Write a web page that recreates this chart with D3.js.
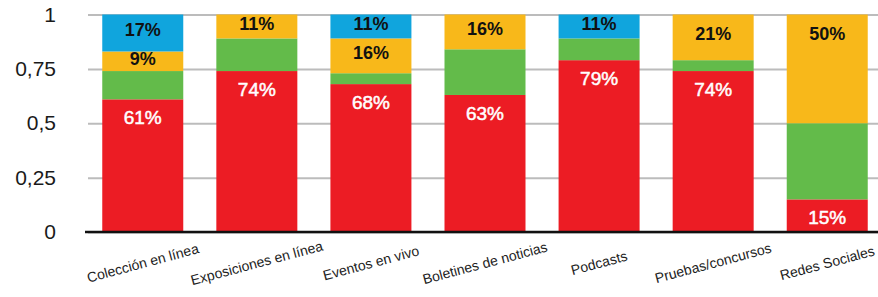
<!doctype html>
<html lang='es'>
<head>
<meta charset='UTF-8'>
<title>Stacked Bar Chart</title>
<style>
  body { margin: 0; background: #fff; }
  svg { display: block; font-family: 'Liberation Sans', Arial, Helvetica, sans-serif; }
  .grid line { stroke: #bcbcbc; stroke-width: 2px; }
  .grid text { font-size: 21px; fill: #1a1a1a; }
  .x text { font-size: 14px; fill: #222; }
  .lbl { font-size: 18px; font-weight: bold; }
</style>
</head>
<body>
<script src='https://cdn.jsdelivr.net/npm/d3@7'></script>
<script>
  const categories = ['Colección en línea', 'Exposiciones en línea', 'Eventos en vivo',
    'Boletines de noticias', 'Podcasts', 'Pruebas/concursos', 'Redes Sociales']
  // porcentajes por segmento, de abajo hacia arriba
  const red    = [61, 74, 68, 63, 79, 74, 15]
  const green  = [13, 15,  5, 21, 10,  5, 35]
  const yellow = [ 9, 11, 16, 16,  0, 21, 50]
  const blue   = [17,  0, 11,  0, 11,  0,  0]
  const yTicks = [0, 0.25, 0.5, 0.75, 1]

  const keys = ['red', 'green', 'yellow', 'blue']
  const colors = {red: '#ec1c24', green: '#63bb4a', yellow: '#f8b81a', blue: '#10a5dd'}
  const labelled = ['red', 'yellow', 'blue']

  const rows = categories.map((c, i) => ({
    cat: c, red: red[i] / 100, green: green[i] / 100, yellow: yellow[i] / 100, blue: blue[i] / 100
  }))

  const W = 878, H = 297
  const m = {left: 88, right: 882, top: 14.5, bottom: 232}

  const x = d3.scaleBand()
    .domain(categories)
    .range([m.left, m.right])
    .paddingInner(0.29)
    .paddingOuter(0.125)

  const y = d3.scaleLinear()
    .domain([0, 1])
    .range([m.bottom, m.top])

  const svg = d3.select('body').append('svg')
    .attr('width', W)
    .attr('height', H)

  // gridlines + etiquetas del eje y
  const grid = svg.append('g')
    .attr('class', 'grid')
    .attr('transform', `translate(${m.left},0)`)
    .call(d3.axisLeft(y)
      .tickValues(yTicks)
      .tickSize(-(W - m.left))
      .tickPadding(32)
      .tickFormat(d => String(d).replace('.', ',')))
  grid.select('.domain').remove()

  const series = d3.stack().keys(keys)(rows)

  svg.append('g')
    .selectAll('g')
    .data(series)
    .join('g')
    .attr('fill', s => colors[s.key])
    .selectAll('rect')
    .data(s => s)
    .join('rect')
    .attr('x', d => x(d.data.cat))
    .attr('width', x.bandwidth())
    .attr('y', d => y(d[1]))
    .attr('height', d => y(d[0]) - y(d[1]))

  // etiquetas de porcentaje
  const lbls = []
  series.forEach(s => {
    if (!labelled.includes(s.key)) return
    s.forEach(d => {
      const v = d[1] - d[0]
      if (v <= 0) return
      const t = y(d[1]), b = y(d[0])
      const cy = s.key === 'red' ? t + 18 : Math.min(t + 19, (t + b) / 2 - 3)
      lbls.push({key: s.key, cat: d.data.cat, v: v, cy: cy})
    })
  })

  svg.append('g')
    .selectAll('text')
    .data(lbls)
    .join('text')
    .attr('class', 'lbl')
    .attr('x', d => x(d.cat) + x.bandwidth() / 2)
    .attr('y', d => d.cy)
    .attr('dy', '0.36em')
    .attr('text-anchor', 'middle')
    .attr('fill', d => d.key === 'red' ? '#fff' : '#111')
    .attr('stroke', d => d.key === 'red' ? '#fff' : 'none')
    .attr('stroke-width', 0.5)
    .style('font-weight', d => d.key === 'red' ? 'normal' : 'bold')
    .style('font-size', d => d.key === 'red' ? '19px' : '18px')
    .text(d => Math.round(d.v * 100) + '%')

  // eje x
  const xg = svg.append('g')
    .attr('class', 'x')
    .attr('transform', `translate(0,${m.bottom})`)
    .call(d3.axisBottom(x).tickSize(0).tickPadding(0))
  xg.select('.domain').remove()
  xg.selectAll('text')
    .attr('y', 0)
    .attr('dy', '0.35em')
    .attr('text-anchor', 'middle')
    .attr('transform', 'translate(0,31) rotate(-15)')

  svg.append('line')
    .attr('x1', 85)
    .attr('x2', W)
    .attr('y1', y(0))
    .attr('y2', y(0))
    .attr('stroke', '#111')
    .attr('stroke-width', 2.5)
</script>
</body>
</html>
